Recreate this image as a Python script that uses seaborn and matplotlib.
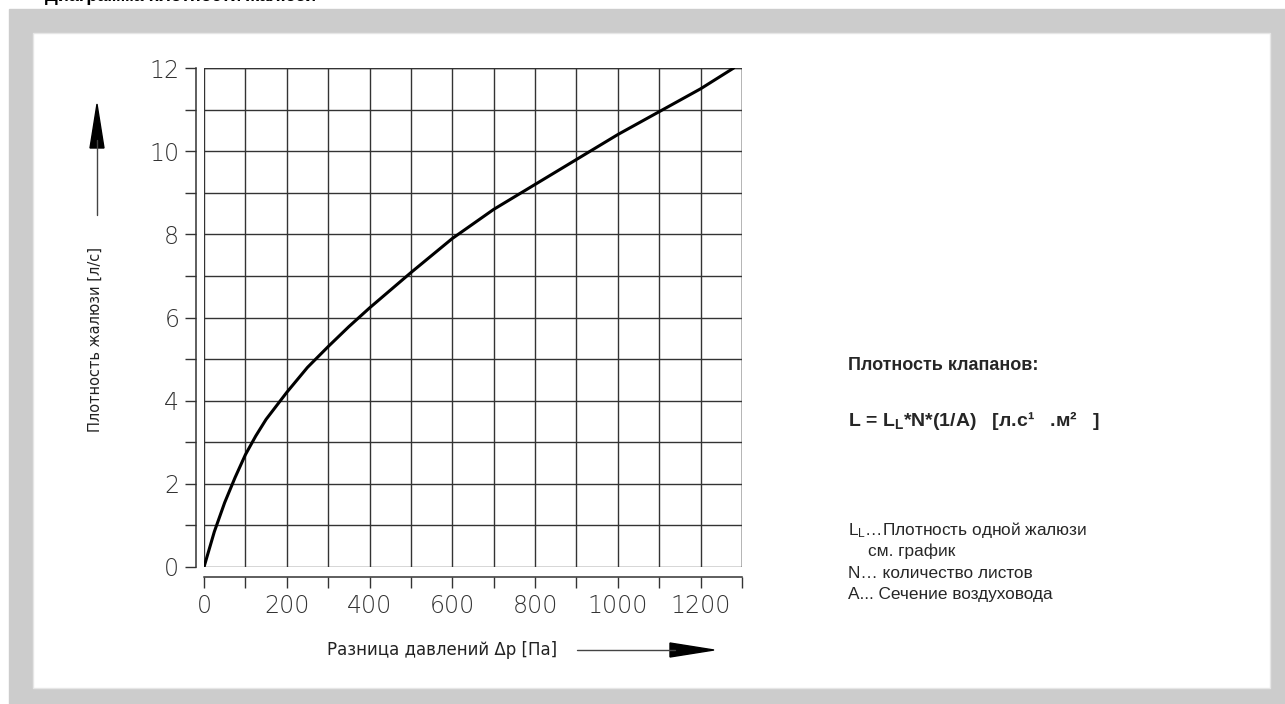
import numpy as np
import pandas as pd
import seaborn as sns
import matplotlib.pyplot as plt
from matplotlib.patches import Rectangle, Polygon
from matplotlib.lines import Line2D

sns.set_theme(style="white")
plt.rcParams['font.family'] = ['Liberation Sans', 'DejaVu Sans']
plt.rcParams['mathtext.default'] = 'regular'

# data
pressure = [0, 25, 50, 75, 100, 125, 150, 200, 250, 300, 350, 400, 500,
            600, 700, 800, 900, 1000, 1100, 1200, 1280]
leakage = [0, 0.85, 1.55, 2.15, 2.7, 3.15, 3.55, 4.2, 4.8, 5.3, 5.78, 6.23,
           7.08, 7.9, 8.6, 9.2, 9.8, 10.4, 10.95, 11.5, 12.0]
x_ticks = [0, 200, 400, 600, 800, 1000, 1200]
y_ticks = [0, 2, 4, 6, 8, 10, 12]

df = pd.DataFrame({"dp": pressure, "L": leakage})

W, H = 1285, 704
fig = plt.figure(figsize=(W / 100, H / 100), dpi=100)


def px(x, y):
    # pixel (top-left origin) -> figure fraction
    return x / W, 1 - y / H


# grey frame round the sheet
fig.patches.append(Rectangle(px(9, 704), (W - 9) / W, (704 - 9) / H,
                             transform=fig.transFigure, color="#cccccc", zorder=-2))
fig.patches.append(Rectangle(px(33, 688), (1270 - 33) / W, (688 - 33) / H,
                             transform=fig.transFigure, facecolor="white",
                             edgecolor="#e6e6e6", lw=1, zorder=-1))

# cut-off heading at the very top
fig.text(45 / W, 1 - 1 / H, "Диаграмма плотности жалюзи", fontsize=13,
         fontweight="bold", va="baseline", ha="left", color="black")

ax = fig.add_axes([204 / W, 137 / H, 538 / W, 499 / H])
ax.set_facecolor("none")
sns.lineplot(data=df, x="dp", y="L", ax=ax, color="black", lw=2.2, zorder=5)

ax.set_xlim(0, 1300)
ax.set_ylim(0, 12)
ax.set_xticks(x_ticks)
ax.set_yticks(y_ticks)
ax.set_xticks(np.arange(0, 1301, 100), minor=True)
ax.set_yticks(np.arange(0, 13, 1), minor=True)
ax.grid(True, which="both", color="#333333", lw=1)
ax.set_axisbelow(True)

sns.despine(ax=ax, offset=dict(left=5.8, bottom=7.2), top=True, right=True)
for s in ["left", "bottom"]:
    ax.spines[s].set_color("#333333")
    ax.spines[s].set_linewidth(1.1)
# right and top border of the grid
ax.axvline(1300, color="#333333", lw=1)
ax.axhline(12, color="#333333", lw=1)

ax.tick_params(which="both", direction="out", length=8, width=1,
               color="#333333", left=True, bottom=True)
ax.tick_params(which="major", labelsize=17, labelcolor="#333333", pad=4)
for lab in ax.get_xticklabels() + ax.get_yticklabels():
    lab.set_family(["DejaVu Sans"])
    lab.set_fontweight("light")

ax.set_xlabel("")
ax.set_ylabel("")

# axis titles with their arrows
fig.text(95 / W, 1 - 340 / H, "Плотность жалюзи [л/с]", rotation=90,
         ha="center", va="center", fontsize=10.5, color="#222222",
         family=["DejaVu Sans"])
fig.lines.append(Line2D(*zip(px(97, 215), px(97, 140)), transform=fig.transFigure,
                        color="#444444", lw=1))
fig.patches.append(Polygon([px(97, 104), px(90, 148), px(104, 148)], closed=True,
                           transform=fig.transFigure, color="black"))

fig.text(327 / W, 1 - 650 / H, "Разница давлений Δp [Па]", ha="left",
         va="center", fontsize=12, color="#222222", family=["DejaVu Sans"])
fig.lines.append(Line2D(*zip(px(577, 650), px(675, 650)), transform=fig.transFigure,
                        color="#444444", lw=1))
fig.patches.append(Polygon([px(714, 650), px(670, 643), px(670, 657)], closed=True,
                           transform=fig.transFigure, color="black"))

# formula block on the right
fig.text(848 / W, 1 - 366 / H, "Плотность клапанов:", fontsize=13,
         fontweight="bold", va="center", ha="left")
fig.text(848 / W, 1 - 420 / H, "L = L$_L$*N*(1/A)   [л.c¹   .м²   ]", fontsize=14,
         fontweight="bold", va="center", ha="left")
fig.text(848 / W, 1 - 530 / H, "L$_L$…Плотность одной жалюзи", fontsize=12.4,
         va="center", ha="left")
fig.text(868 / W, 1 - 551 / H, "см. график", fontsize=12.4, va="center", ha="left")
fig.text(848 / W, 1 - 573 / H, "N… количество листов", fontsize=12.4,
         va="center", ha="left")
fig.text(848 / W, 1 - 594 / H, "A... Сечение воздуховода", fontsize=12.4,
         va="center", ha="left")

fig.savefig("out.png", dpi=100)
